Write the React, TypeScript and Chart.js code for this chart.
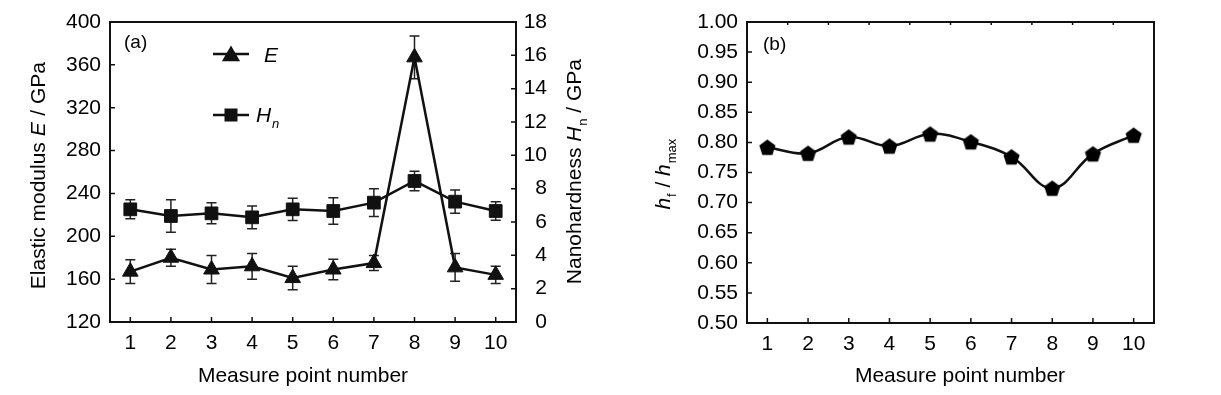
import React, { useEffect, useRef } from 'react';
import { Chart, registerables } from 'chart.js';

Chart.register(...registerables);

// ---------------- data ----------------
const categories = ['1', '2', '3', '4', '5', '6', '7', '8', '9', '10'];
const eValues = [167, 180, 169, 172, 161, 169, 175, 367, 171, 164];
const eErrors = [11, 8, 13, 12, 11, 9.5, 7, 20, 13, 8];
const hnValues = [6.76, 6.36, 6.52, 6.28, 6.76, 6.66, 7.16, 8.46, 7.22, 6.66];
const hnErrors = [0.57, 0.97, 0.63, 0.68, 0.67, 0.8, 0.83, 0.58, 0.7, 0.55];
const ratioValues = [0.792, 0.782, 0.809, 0.794, 0.814, 0.801, 0.776, 0.724, 0.781, 0.812];

const eTicks = [120, 160, 200, 240, 280, 320, 360, 400];
const hnTicks = [0, 2, 4, 6, 8, 10, 12, 14, 16, 18];
const ratioTicks = [0.5, 0.55, 0.6, 0.65, 0.7, 0.75, 0.8, 0.85, 0.9, 0.95, 1.0];

const FONT = '"Liberation Sans", Arial, Helvetica, sans-serif';
const INK = '#111';

type Seg = { t: string; italic?: boolean; sub?: boolean };

function segFont(s: Seg, size: number) {
  const sz = s.sub ? Math.round(size * 0.6) : size;
  return `${s.italic ? 'italic ' : ''}${sz}px ${FONT}`;
}

// draws rich text; (x,y) = position of the baseline centre (or left start if align==='left')
function drawRich(
  ctx: CanvasRenderingContext2D,
  segs: Seg[],
  x: number,
  y: number,
  size: number,
  rotate: boolean,
  align: 'center' | 'left' = 'center'
) {
  ctx.save();
  ctx.translate(x, y);
  if (rotate) ctx.rotate(-Math.PI / 2);
  ctx.fillStyle = '#000';
  ctx.textBaseline = 'alphabetic';
  ctx.textAlign = 'left';
  const widths = segs.map((s) => {
    ctx.font = segFont(s, size);
    return ctx.measureText(s.t).width;
  });
  const total = widths.reduce((a, b) => a + b, 0);
  let cx = align === 'center' ? -total / 2 : 0;
  segs.forEach((s, i) => {
    ctx.font = segFont(s, size);
    ctx.fillText(s.t, cx, s.sub ? size * 0.28 : 0);
    cx += widths[i] + (s.italic ? size * 0.04 : 0);
  });
  ctx.restore();
}

function makePentagon(r: number) {
  const c = document.createElement('canvas');
  const s = Math.ceil(r * 2 + 2);
  c.width = s;
  c.height = s;
  const g = c.getContext('2d')!;
  g.beginPath();
  const dy = r * 0.095;
  for (let i = 0; i < 5; i++) {
    const a = -Math.PI / 2 + (i * 2 * Math.PI) / 5;
    const px = s / 2 + r * Math.cos(a);
    const py = s / 2 + r * Math.sin(a) + dy;
    if (i === 0) g.moveTo(px, py);
    else g.lineTo(px, py);
  }
  g.closePath();
  g.fillStyle = '#000';
  g.fill();
  return c;
}

type TickSpec = { axis: string; side: 'left' | 'right' | 'bottom' | 'top'; len: number; between?: boolean };

function decorPlugin(cfg: {
  ticks: TickSpec[];
  draw: (ctx: CanvasRenderingContext2D, chart: any) => void;
}) {
  return {
    id: 'decor',
    beforeDatasetsDraw(chart: any) {
      const ctx: CanvasRenderingContext2D = chart.ctx;
      ctx.save();
      ctx.strokeStyle = '#222';
      ctx.lineWidth = 1.5;
      chart.data.datasets.forEach((ds: any, i: number) => {
        if (!ds.errors) return;
        const meta = chart.getDatasetMeta(i);
        const ys = chart.scales[ds.yAxisID];
        meta.data.forEach((pt: any, j: number) => {
          const v = ds.data[j];
          const e = ds.errors[j];
          const yt = ys.getPixelForValue(v + e);
          const yb = ys.getPixelForValue(v - e);
          const x = pt.x;
          ctx.beginPath();
          ctx.moveTo(x, yt);
          ctx.lineTo(x, yb);
          ctx.moveTo(x - 5, yt);
          ctx.lineTo(x + 5, yt);
          ctx.moveTo(x - 5, yb);
          ctx.lineTo(x + 5, yb);
          ctx.stroke();
        });
      });
      ctx.restore();
    },
    afterDatasetsDraw(chart: any) {
      const ctx: CanvasRenderingContext2D = chart.ctx;
      const a = chart.chartArea;
      ctx.save();
      ctx.strokeStyle = INK;
      ctx.lineWidth = 2;
      ctx.strokeRect(a.left, a.top, a.right - a.left, a.bottom - a.top);
      ctx.lineWidth = 1.5;
      cfg.ticks.forEach((t) => {
        const sc = chart.scales[t.axis];
        let positions: number[] = [];
        if (t.between) {
          for (let i = 0; i < sc.ticks.length - 1; i++) {
            positions.push((sc.getPixelForTick(i) + sc.getPixelForTick(i + 1)) / 2);
          }
        } else {
          positions = sc.ticks.map((_: any, i: number) => sc.getPixelForTick(i));
        }
        ctx.beginPath();
        positions.forEach((p) => {
          if (t.side === 'left') {
            ctx.moveTo(a.left, p);
            ctx.lineTo(a.left + t.len, p);
          } else if (t.side === 'right') {
            ctx.moveTo(a.right, p);
            ctx.lineTo(a.right - t.len, p);
          } else if (t.side === 'bottom') {
            ctx.moveTo(p, a.bottom);
            ctx.lineTo(p, a.bottom - t.len);
          } else {
            ctx.moveTo(p, a.top);
            ctx.lineTo(p, a.top + t.len);
          }
        });
        ctx.stroke();
      });
      ctx.restore();
      cfg.draw(ctx, chart);
    },
  };
}

const tickFont = { size: 21, family: FONT };

function yTicksFrom(arr: number[]) {
  return (scale: any) => {
    scale.ticks = arr.map((v) => ({ value: v }));
  };
}

function ChartA() {
  const ref = useRef<HTMLCanvasElement>(null);
  useEffect(() => {
    const plugin = decorPlugin({
      ticks: [
        { axis: 'x', side: 'bottom', len: 5 },
        { axis: 'y', side: 'left', len: 5 },
        { axis: 'y1', side: 'right', len: 5 },
      ],
      draw: (ctx) => {
        // panel label
        drawRich(ctx, [{ t: '(a)' }], 124, 48, 19, false, 'left');
        // legend
        ctx.save();
        ctx.strokeStyle = INK;
        ctx.fillStyle = INK;
        ctx.lineWidth = 2.5;
        ctx.beginPath();
        ctx.moveTo(213, 54);
        ctx.lineTo(249, 54);
        ctx.moveTo(213, 115);
        ctx.lineTo(249, 115);
        ctx.stroke();
        const r = 10.5;
        ctx.beginPath();
        ctx.moveTo(231, 56 - r);
        ctx.lineTo(231 + r * 0.866, 56 + r * 0.5);
        ctx.lineTo(231 - r * 0.866, 56 + r * 0.5);
        ctx.closePath();
        ctx.fill();
        ctx.fillRect(231 - 6.5, 115 - 6.5, 13, 13);
        ctx.restore();
        drawRich(ctx, [{ t: 'E', italic: true }], 264, 62, 21, false, 'left');
        drawRich(ctx, [{ t: 'H', italic: true }, { t: 'n', italic: true, sub: true }], 256, 122, 21, false, 'left');
        // axis titles
        drawRich(
          ctx,
          [{ t: 'Elastic modulus ' }, { t: 'E', italic: true }, { t: ' / GPa' }],
          45,
          176,
          21,
          true
        );
        drawRich(
          ctx,
          [{ t: 'Nanohardness ' }, { t: 'H', italic: true }, { t: 'n', sub: true }, { t: ' / GPa' }],
          581,
          172,
          21,
          true
        );
        drawRich(ctx, [{ t: 'Measure point number' }], 303, 382, 21, false);
      },
    });
    const chart = new Chart(ref.current!, {
      type: 'line',
      data: {
        labels: categories,
        datasets: [
          {
            label: 'E',
            data: eValues,
            errors: eErrors,
            yAxisID: 'y',
            borderColor: INK,
            borderWidth: 2.5,
            pointStyle: 'triangle',
            pointRadius: 9,
            pointBackgroundColor: INK,
            pointBorderColor: INK,
            pointBorderWidth: 1,
            tension: 0,
          } as any,
          {
            label: 'Hn',
            data: hnValues,
            errors: hnErrors,
            yAxisID: 'y1',
            borderColor: INK,
            borderWidth: 2.5,
            pointStyle: 'rect',
            pointRadius: 9,
            pointBackgroundColor: INK,
            pointBorderColor: INK,
            pointBorderWidth: 1,
            tension: 0,
          } as any,
        ],
      },
      options: {
        responsive: false,
        animation: false,
        events: [],
        layout: { padding: { top: 22, right: 73, bottom: 0, left: 0 } },
        plugins: { legend: { display: false }, tooltip: { enabled: false } },
        scales: {
          x: {
            type: 'category',
            offset: true,
            grid: { display: false, drawTicks: false, tickLength: 0 },
            border: { display: false },
            ticks: { padding: 9, font: tickFont, color: '#000', maxRotation: 0, autoSkip: false },
            afterFit: (s: any) => {
              s.height = 73;
            },
          },
          y: {
            position: 'left',
            min: 120,
            max: 400,
            afterBuildTicks: yTicksFrom(eTicks),
            grid: { display: false, drawTicks: false, tickLength: 0 },
            border: { display: false },
            ticks: { padding: 9, font: tickFont, color: '#000' },
            afterFit: (s: any) => {
              s.width = 110;
            },
          },
          y1: {
            position: 'right',
            min: 0,
            max: 18,
            afterBuildTicks: yTicksFrom(hnTicks),
            grid: { display: false, drawTicks: false, tickLength: 0 },
            border: { display: false },
            ticks: { padding: 9, font: tickFont, color: '#000', crossAlign: 'far' },
            afterFit: (s: any) => {
              s.width = 31;
            },
          },
        },
      } as any,
      plugins: [plugin as any],
    });
    return () => chart.destroy();
  }, []);
  return (
    <canvas
      ref={ref}
      width={620}
      height={395}
      style={{ position: 'absolute', left: 0, top: 0, width: 620, height: 395 }}
    />
  );
}

function ChartB() {
  const ref = useRef<HTMLCanvasElement>(null);
  useEffect(() => {
    const pentagon = makePentagon(8.5);
    const plugin = decorPlugin({
      ticks: [
        { axis: 'x', side: 'bottom', len: 5 },
        { axis: 'x', side: 'top', len: 3, between: true },
        { axis: 'y', side: 'left', len: 5 },
      ],
      draw: (ctx) => {
        drawRich(ctx, [{ t: '(b)' }], 143, 50, 19, false, 'left');
        drawRich(
          ctx,
          [{ t: 'h', italic: true }, { t: 'f', sub: true }, { t: ' / ' }, { t: 'h', italic: true }, { t: 'max', sub: true }],
          50,
          175,
          21,
          true
        );
        drawRich(ctx, [{ t: 'Measure point number' }], 340, 382, 21, false);
      },
    });
    const chart = new Chart(ref.current!, {
      type: 'line',
      data: {
        labels: categories,
        datasets: [
          {
            label: 'hf/hmax',
            data: ratioValues,
            yAxisID: 'y',
            borderColor: INK,
            borderWidth: 2.5,
            pointStyle: pentagon,
            pointRadius: 9,
            pointBackgroundColor: INK,
            pointBorderColor: INK,
            tension: 0.4,
          } as any,
        ],
      },
      options: {
        responsive: false,
        animation: false,
        events: [],
        layout: { padding: { top: 22, right: 67, bottom: 0, left: 0 } },
        plugins: { legend: { display: false }, tooltip: { enabled: false } },
        scales: {
          x: {
            type: 'category',
            offset: true,
            grid: { display: false, drawTicks: false, tickLength: 0 },
            border: { display: false },
            ticks: { padding: 9, font: tickFont, color: '#000', maxRotation: 0, autoSkip: false },
            afterFit: (s: any) => {
              s.height = 72;
            },
          },
          y: {
            position: 'left',
            min: 0.5,
            max: 1.0,
            afterBuildTicks: yTicksFrom(ratioTicks),
            grid: { display: false, drawTicks: false, tickLength: 0 },
            border: { display: false },
            ticks: {
              padding: 9,
              font: tickFont,
              color: '#000',
              callback: (v: any) => Number(v).toFixed(2),
            },
            afterFit: (s: any) => {
              s.width = 127;
            },
          },
        },
      } as any,
      plugins: [plugin as any],
    });
    return () => chart.destroy();
  }, []);
  return (
    <canvas
      ref={ref}
      width={601}
      height={395}
      style={{ position: 'absolute', left: 620, top: 0, width: 601, height: 395 }}
    />
  );
}

export default function App() {
  return (
    <div style={{ position: 'fixed', left: 0, top: 0, width: 1221, height: 395, background: '#fff' }}>
      <ChartA />
      <ChartB />
    </div>
  );
}
